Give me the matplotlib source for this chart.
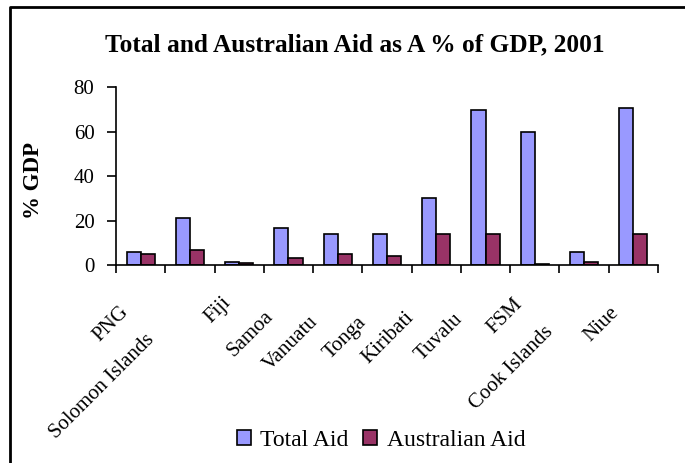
import numpy as np
import matplotlib
matplotlib.use("Agg")
import matplotlib.pyplot as plt
from matplotlib.lines import Line2D
from matplotlib.transforms import ScaledTranslation, blended_transform_factory

# data
countries = ["PNG", "Solomon Islands", "Fiji", "Samoa", "Vanuatu", "Tonga",
             "Kiribati", "Tuvalu", "FSM", "Cook Islands", "Niue"]
total_aid = [6.0, 21.3, 1.5, 16.8, 14.1, 14.1, 30.3, 69.8, 59.9, 6.0, 70.7]
aus_aid = [5.1, 6.9, 0.7, 3.3, 5.1, 4.2, 14.1, 14.1, 0.5, 1.5, 14.1]
yticks = [0, 20, 40, 60, 80]

# staggered category labels: end of each label, px relative to the category centre
label_dx = [-8, -32, -4, -11, -16, -17, -18, -19, -8, -27, -11]
label_dy = [37, 65, 28, 42, 47, 48, 43, 45, 30, 57, 38]

plt.rcParams['font.family'] = ['Liberation Serif', 'DejaVu Serif']

fig = plt.figure(figsize=(6.85, 4.63), dpi=100)
ax = fig.add_axes([116/685, 1-265/463, (658-116)/685, (265-87)/463])

x = np.arange(len(countries))
w = 1/3.5
ax.bar(x - w/2, total_aid, w, color='#9999FF', edgecolor='black', linewidth=1.2, label='Total Aid')
ax.bar(x + w/2, aus_aid, w, color='#993366', edgecolor='black', linewidth=1.2, label='Australian Aid')

ax.set_xlim(-0.5, len(countries) - 0.5)
ax.set_ylim(0, 80)
ax.set_yticks(yticks)
ax.tick_params(axis='y', direction='out', length=6.5, width=1.2, labelsize=15, pad=9)
ax.set_xticks(np.arange(len(countries) + 1) - 0.5)
ax.set_xticklabels([])
ax.tick_params(axis='x', direction='out', length=6, width=1.2)
for s in ['top', 'right']:
    ax.spines[s].set_visible(False)
for s in ['left', 'bottom']:
    ax.spines[s].set_linewidth(1.2)

ax.set_ylabel('% GDP', fontsize=16.5, fontweight='bold')
ax.yaxis.set_label_coords(44/685, 1-180/463, transform=fig.transFigure)

# rotated category labels
trans = blended_transform_factory(ax.transData, ax.transAxes)
for i, name in enumerate(countries):
    off = ScaledTranslation(label_dx[i]/100, -label_dy[i]/100, fig.dpi_scale_trans)
    ax.text(i, 0, name, transform=trans + off, rotation=45, ha='right', va='top',
            fontsize=15)

fig.text(355/685, 1-45/463, 'Total and Australian Aid as A % of GDP, 2001',
         ha='center', va='center', fontsize=18.3, fontweight='bold')

fig.legend(loc='center', bbox_to_anchor=(381/685, 1-440/463), ncol=2, frameon=False,
           fontsize=17, handlelength=0.6, handleheight=0.6, handletextpad=0.4,
           columnspacing=0.6, borderpad=0)

# only the top and left of the chart frame are in view
fig.add_artist(Line2D([10/685, 10/685, 1], [0, 1-7/463, 1-7/463],
                      transform=fig.transFigure, color='black', linewidth=2))

fig.savefig('out.png', dpi=100)
